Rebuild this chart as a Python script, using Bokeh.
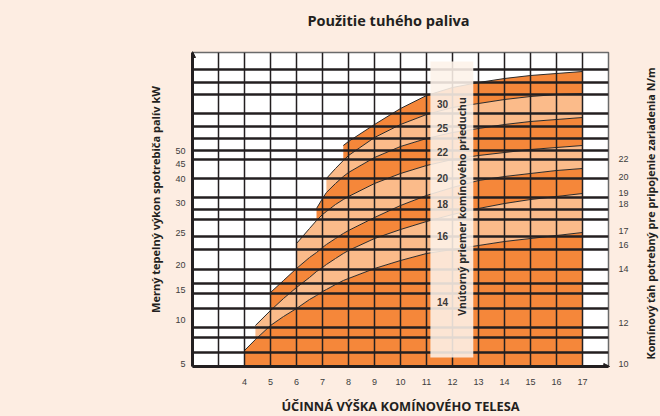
import numpy as np
from bokeh.plotting import figure
from bokeh.models import FixedTicker, LinearAxis, Range1d, Arrow, NormalHead
from bokeh.core.properties import value
from bokeh.embed import file_html
from bokeh.resources import INLINE

# ---------------- data ----------------
x_ticks = list(range(4, 18))
col_lines = list(range(3, 18))
# horizontal grid rows (nomogram units, 0 = bottom of chart)
row_lines = [14, 29, 39, 58, 73, 83, 97, 117, 130, 147, 157, 169, 188, 207, 216, 228, 240, 253, 272, 284, 297]

left_tick_pos = [3, 47, 77, 102, 134, 164, 188, 203, 216]
left_tick_labels = ["5", "10", "15", "20", "25", "30", "40", "45", "50"]
right_tick_pos = [3, 44, 98, 122, 136, 163, 174, 190, 208]
right_tick_labels = ["10", "12", "14", "16", "17", "18", "19", "20", "22"]

diameters = [14, 16, 18, 20, 22, 25, 30]
band_start = [4, 4.42, 5, 6, 6.77, 7.15, 7.8]
grid_x = [4, 4.42, 5, 5.5, 6, 6.5, 6.77, 7, 7.15, 7.5, 7.8, 8, 9, 10, 11, 12, 13, 14, 15, 16, 17]
# upper boundary of each diameter band (values from band start to x = 17)
upper_14 = [16, 27, 41, 50, 58, 67, 71, 75, 77, 82, 86, 88, 98, 106, 113, 117, 121, 125, 128, 131, 134]
upper_16 = [41, 56, 68, 79, 89, 95, 99, 102, 108, 113, 116, 128, 137, 145, 152, 158, 163, 167, 170, 173]
upper_18 = [74, 86, 98, 109, 114, 119, 122, 128, 133, 136, 149, 161, 171, 179, 186, 190, 193, 196, 198]
upper_20 = [123, 138, 146, 152, 155, 162, 167, 170, 183, 193, 201, 207, 211, 214, 217, 219, 221]
upper_22 = [158, 168, 174, 183, 190, 194, 209, 220, 228, 234, 238, 242, 245, 247, 249]
upper_25 = [188, 198, 206, 211, 229, 242, 252, 259, 263, 267, 270, 272, 273]
upper_30 = [221, 225, 242, 258, 271, 279, 284, 288, 291, 293, 295]
diameter_label_y = [65, 131, 163, 189, 215, 239, 263]

uppers = [upper_14, upper_16, upper_18, upper_20, upper_22, upper_25, upper_30]

TITLE = "Použitie tuhého paliva"
X_TITLE = "ÚČINNÁ VÝŠKA KOMÍNOVÉHO TELESA"
Y_TITLE = "Merný tepelný výkon spotrebiča palív kW"
Y2_TITLE = "Komínový ťah potrebný pre pripojenie zariadenia N/m"
COLUMN_TITLE = "Vnútorný priemer komínového prieduchu"

BG = "#FDEDE2"
DARK = "#F5873A"
LIGHT = "#FBBB8A"
INK = "#231F20"

p = figure(frame_width=416, frame_height=314,
           x_range=Range1d(2, 18), y_range=Range1d(0, 314),
           output_backend="svg", toolbar_location=None,
           min_border_left=192, min_border_right=52, min_border_top=52, min_border_bottom=50,
           background_fill_color="white", border_fill_color=BG,
           outline_line_color="#6a6a6a", outline_line_width=1.5)
p.xgrid.visible = False
p.ygrid.visible = False

# bands
band_xs, band_ys, band_cols, line_xs, line_ys = [], [], [], [], []
for k, up in enumerate(uppers):
    xs = grid_x[len(grid_x) - len(up):]
    if k == 0:
        low = [0] * len(xs)
    else:
        prev = uppers[k - 1]
        low = prev[len(prev) - len(up):]
    band_xs.append(list(xs) + list(xs[::-1]))
    band_ys.append(list(up) + list(low[::-1]))
    band_cols.append(DARK if k % 2 == 0 else LIGHT)
    line_xs.append(list(xs))
    line_ys.append(list(up))

p.patches(band_xs, band_ys, fill_color=band_cols, line_color=None)
p.multi_line(line_xs, line_ys, line_color="#2a2a2a", line_width=1)

# grid
p.segment(x0=col_lines, y0=[0] * len(col_lines), x1=col_lines, y1=[314] * len(col_lines),
          line_color=INK, line_width=1.5)
p.segment(x0=[2] * len(row_lines), y0=row_lines, x1=[18] * len(row_lines), y1=row_lines,
          line_color=INK, line_width=2.6)

# translucent column
p.quad(left=[11.15], right=[12.8], bottom=[9], top=[305], fill_color="#FDF2E9",
       fill_alpha=0.88, line_color=None)
p.text(x=[11.62] * len(diameters), y=diameter_label_y, text=[str(d) for d in diameters],
       text_font=value("Liberation Sans"), text_font_size="10px", text_font_style="bold",
       text_color="#3a3a3a", text_align="center", text_baseline="middle")
p.text(x=[12.38], y=[160], text=[COLUMN_TITLE], angle=np.pi / 2,
       text_font=value("Open Sans"), text_font_size="10.5px", text_font_style="bold",
       text_color="#2a2a2a", text_align="center", text_baseline="middle")

# axes
p.xaxis.ticker = FixedTicker(ticks=x_ticks)
p.xaxis.axis_line_color = INK
p.xaxis.axis_line_width = 3
p.xaxis.major_tick_line_color = None
p.xaxis.minor_tick_line_color = None
p.xaxis.major_tick_out = 0
p.xaxis.major_tick_in = 0
p.xaxis.minor_tick_out = 0
p.xaxis.major_label_text_font = "Liberation Sans"
p.xaxis.major_label_text_font_size = "9px"
p.xaxis.major_label_text_color = "#3c3c3c"
p.xaxis.major_label_standoff = 12
p.xaxis.axis_label = X_TITLE
p.xaxis.axis_label_text_font = "Open Sans"
p.xaxis.axis_label_text_font_style = "bold"
p.xaxis.axis_label_text_font_size = "12.8px"
p.xaxis.axis_label_text_color = INK
p.xaxis.axis_label_standoff = 9

p.yaxis.ticker = FixedTicker(ticks=left_tick_pos)
p.yaxis.major_label_overrides = dict(zip(left_tick_pos, left_tick_labels))
p.yaxis.axis_line_color = INK
p.yaxis.axis_line_width = 3
p.yaxis.major_tick_line_color = None
p.yaxis.minor_tick_line_color = None
p.yaxis.major_tick_out = 0
p.yaxis.major_tick_in = 0
p.yaxis.minor_tick_out = 0
p.yaxis.major_label_text_font = "Liberation Sans"
p.yaxis.major_label_text_font_size = "9px"
p.yaxis.major_label_text_color = "#3c3c3c"
p.yaxis.major_label_standoff = 7

ra = LinearAxis(ticker=FixedTicker(ticks=right_tick_pos),
                major_label_overrides=dict(zip(right_tick_pos, right_tick_labels)),
                axis_line_color=None, major_tick_line_color=None, minor_tick_line_color=None,
                major_tick_out=0, major_tick_in=0, minor_tick_out=0,
                major_label_text_font="Liberation Sans", major_label_text_font_size="9px",
                major_label_text_color="#3c3c3c", major_label_standoff=10)
p.add_layout(ra, "right")

# axis titles and chart title, drawn unclipped outside the frame
r_y = p.text(x=[2], y=[167], text=[Y_TITLE], x_offset=-37, angle=np.pi / 2,
             text_font=value("Open Sans"), text_font_style="bold", text_font_size="11px",
             text_color=INK, text_align="center", text_baseline="middle")
r_y.level = "overlay"
r_y2 = p.text(x=[18], y=[153], text=[Y2_TITLE], x_offset=42, angle=np.pi / 2,
              text_font=value("Open Sans"), text_font_style="bold", text_font_size="10.8px",
              text_color=INK, text_align="center", text_baseline="middle")
r_y2.level = "overlay"
r_t = p.text(x=[10], y=[314], text=[TITLE], x_offset=-12, y_offset=-32,
             text_font=value("Open Sans"), text_font_style="bold", text_font_size="14.5px",
             text_color=INK, text_align="center", text_baseline="middle")
r_t.level = "overlay"

p.add_layout(Arrow(end=NormalHead(size=6, fill_color=INK, line_color=INK),
                   x_start=2, y_start=305, x_end=2, y_end=315, line_color=INK, line_width=1))
p.add_layout(Arrow(end=NormalHead(size=6, fill_color=INK, line_color=INK),
                   x_start=17.7, y_start=0, x_end=18.05, y_end=0, line_color=INK, line_width=1))

html = file_html(p, INLINE, title=TITLE)
i = html.rfind("</head>")
html = html[:i] + "<style>html,body{background:#FDEDE2;}</style>" + html[i:]
open("out.html", "w").write(html)
